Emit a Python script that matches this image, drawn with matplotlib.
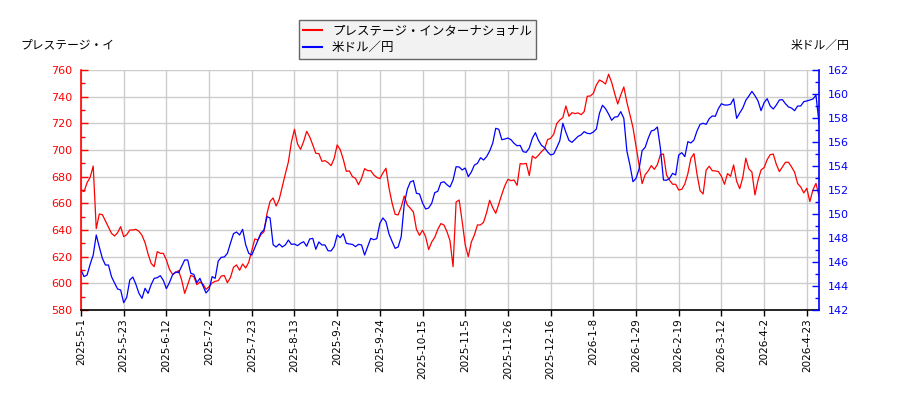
import numpy as np
import matplotlib
matplotlib.use("Agg")
import matplotlib.pyplot as plt
from matplotlib.ticker import MultipleLocator

plt.rcParams['font.family'] = ['DejaVu Sans', 'Noto Sans CJK JP']

# ---- data (one value per trading day) ----
stock_name = "プレステージ・インターナショナル"
fx_name = "米ドル／円"

tick_labels = ["2025-5-1", "2025-5-23", "2025-6-12", "2025-7-2", "2025-7-23",
               "2025-8-13", "2025-9-2", "2025-9-24", "2025-10-15", "2025-11-5",
               "2025-11-26", "2025-12-16", "2026-1-8", "2026-1-29", "2026-2-19",
               "2026-3-12", "2026-4-2", "2026-4-23"]
tick_step = 14  # trading days between labelled ticks

stock = [
    670, 668.8, 675.5, 679.5, 688, 641, 652, 651.5, 646.8, 642,
    637.5, 635.5, 638, 642.5, 635, 636.5, 640, 640, 640.5, 639,
    636, 630.5, 622, 615, 612.5, 623.8, 622.5, 622.5, 617.5, 610.5,
    606.8, 608, 609.5, 602.5, 592.5, 599, 606, 605, 599, 601,
    599.5, 595.5, 597.5, 600.3, 601.5, 602, 605.5, 605.8, 600.5, 604.3,
    612, 613.8, 609.8, 614.5, 611.5, 615.8, 624.5, 633.3, 632.5, 636.5,
    638.8, 652.5, 661.5, 664, 658, 663, 672.5, 682, 691, 706,
    715.5, 704.5, 700.5, 706.3, 714, 709.8, 703.8, 697.5, 697.3, 691.5,
    692, 690.5, 688.3, 693.5, 703.8, 700.3, 693, 684, 684.3, 680,
    678.8, 674, 678.8, 686, 684.5, 684.5, 681.3, 679.5, 678.5, 682.8,
    686.3, 671.5, 660.3, 651.8, 651.3, 657.3, 665.5, 658.8, 656.3, 653.5,
    640.5, 636, 639.8, 635, 625.3, 631, 634.5, 640.5, 644.8, 643.8,
    638.8, 632, 612.5, 661, 662.5, 646.3, 628.8, 620, 631, 636.3,
    643.8, 643.8, 645.8, 653, 662.3, 656.8, 652.5, 659.5, 666.8, 673.3,
    678, 677, 677.5, 673.5, 689.8, 689.5, 690, 680.8, 695.5, 693.8,
    696, 698.8, 701, 707.8, 708.8, 711.8, 719.8, 722.5, 724.3, 733,
    725.3, 728, 727.3, 727.8, 726.5, 728.8, 740.3, 740.5, 742.5, 748.8,
    752.5, 751.3, 749.5, 756.8, 750.8, 742.3, 734.5, 741.3, 747.3, 735.8,
    726.5, 716.8, 702.8, 689.3, 674.8, 681.5, 684.3, 688.3, 685.5, 689,
    696.5, 697, 681.3, 677.3, 674.3, 674.3, 670, 670.5, 674.5, 682.3,
    693.8, 697.3, 681.8, 669.5, 667, 685, 687.8, 684.5, 684.3, 683.8,
    680.3, 674.3, 682.3, 680.3, 688.8, 676.5, 671, 679.3, 693.8, 685.8,
    683.5, 666.3, 677.3, 685, 686.8, 692.8, 696.5, 697, 689.3, 683.8,
    687.3, 690.8, 690.8, 687.3, 683.3, 674.8, 672.3, 667.8, 671.3, 661.3,
    670, 675, 665.5,
]

usdjpy = [
    145.33, 144.78, 144.92, 145.81, 146.58, 148.25, 147.25, 146.31, 145.75, 145.75,
    144.78, 144.25, 143.75, 143.67, 142.61, 143.06, 144.5, 144.75, 144.14, 143.39,
    142.97, 143.81, 143.39, 144.11, 144.64, 144.69, 144.86, 144.47, 143.78, 144.28,
    144.92, 145.17, 145.11, 145.64, 146.17, 146.17, 145.06, 144.97, 144.28, 144.64,
    144.0, 143.42, 143.72, 144.78, 144.64, 146.08, 146.39, 146.42, 146.72, 147.56,
    148.36, 148.5, 148.25, 148.72, 147.44, 146.72, 146.58, 147.19, 147.78, 148.42,
    148.67, 149.78, 149.67, 147.44, 147.25, 147.5, 147.25, 147.42, 147.83, 147.47,
    147.5, 147.36, 147.56, 147.69, 147.31, 147.92, 147.97, 147.06, 147.67, 147.42,
    147.42, 146.94, 146.92, 147.28, 148.25, 148.03, 148.36, 147.56, 147.5, 147.47,
    147.28, 147.47, 147.42, 146.58, 147.28, 147.97, 147.86, 147.94, 149.22, 149.67,
    149.36, 148.33, 147.72, 147.14, 147.25, 148.11, 150.81, 152.06, 152.67, 152.78,
    151.72, 151.67, 150.92, 150.42, 150.5, 150.89, 151.78, 151.89, 152.61, 152.69,
    152.44, 152.25, 152.83, 153.94, 153.92, 153.67, 153.83, 153.11, 153.5, 154.08,
    154.22, 154.69, 154.5, 154.78, 155.25, 155.89, 157.14, 157.06, 156.19, 156.25,
    156.33, 156.19, 155.89, 155.69, 155.72, 155.19, 155.14, 155.5, 156.31, 156.78,
    156.14, 155.72, 155.53, 155.17, 154.92, 155.0, 155.53, 156.11, 157.56, 156.81,
    156.14, 155.97, 156.22, 156.47, 156.6, 156.86, 156.72, 156.69, 156.83, 157.08,
    158.39, 159.06, 158.78, 158.33, 157.81, 158.08, 158.11, 158.53, 157.97, 155.25,
    154.08, 152.69, 152.97, 153.75, 155.28, 155.56, 156.31, 156.92, 157.0, 157.25,
    155.47, 152.83, 152.81, 152.97, 153.39, 153.25, 154.92, 155.11, 154.78, 156.03,
    155.92, 156.17, 156.92, 157.47, 157.56, 157.47, 157.94, 158.17, 158.14, 158.78,
    159.19, 159.08, 159.08, 159.14, 159.6, 157.97, 158.42, 158.83, 159.47, 159.83,
    160.22, 159.86, 159.42, 158.61, 159.28, 159.61, 159.0, 158.75, 159.08, 159.5,
    159.53, 159.19, 158.92, 158.83, 158.61, 159.0, 159.0, 159.36, 159.42, 159.5,
    159.58, 159.9, 157.6,
]

# ---- figure ----
fig = plt.figure(figsize=(9, 4), dpi=100)
ax = fig.add_axes([0.09, 0.225, 0.82, 0.60])
ax2 = ax.twinx()

x = np.arange(len(stock))
ax.plot(x, stock, color='#ff0000', lw=0.9, zorder=3)
ax2.plot(np.arange(len(usdjpy)), usdjpy, color='#0000ff', lw=0.9, zorder=3)

ax.set_xlim(0, len(stock) - 1)
ax.set_ylim(580, 760)
ax2.set_ylim(142, 162)

ax.yaxis.set_major_locator(MultipleLocator(20))
ax.yaxis.set_minor_locator(MultipleLocator(10))
ax2.yaxis.set_major_locator(MultipleLocator(2))
ax2.yaxis.set_minor_locator(MultipleLocator(1))

ax.set_xticks(np.arange(len(tick_labels)) * tick_step)
ax.set_xticklabels(tick_labels, rotation=90, fontsize=7.5)

ax.grid(True, color='#cccccc', lw=1.0, zorder=0)
ax.set_axisbelow(True)

ax.tick_params(axis='y', which='major', direction='in', length=5, width=1,
               colors='#ff0000', labelsize=8, pad=6)
ax.tick_params(axis='y', which='minor', direction='in', length=3, width=1,
               colors='#ff0000')
ax2.tick_params(axis='y', which='major', direction='in', length=5, width=1,
                colors='#0000ff', labelsize=8, pad=6)
ax2.tick_params(axis='y', which='minor', direction='in', length=3, width=1,
                colors='#0000ff')
ax.tick_params(axis='x', direction='out', length=4, width=1, colors='black', pad=2)

for a in (ax, ax2):
    a.spines['top'].set_visible(False)
ax.spines['left'].set_color('#ff0000')
ax.spines['left'].set_linewidth(1.2)
ax2.spines['right'].set_color('#0000ff')
ax2.spines['right'].set_linewidth(1.2)
ax2.spines['left'].set_visible(False)
ax.spines['right'].set_visible(False)
ax2.spines['bottom'].set_visible(False)
ax.spines['bottom'].set_color('black')
ax.spines['bottom'].set_linewidth(1.2)

fig.text(0.023, 0.887, "プレステージ・イ", fontsize=8.5, ha='left', va='center')
fig.text(0.944, 0.887, fx_name, fontsize=8.5, ha='right', va='center')

h1, = ax.plot([], [], color='#ff0000', lw=1.5)
h2, = ax.plot([], [], color='#0000ff', lw=1.5)
leg = fig.legend([h1, h2], [stock_name, fx_name], loc='upper center',
                 bbox_to_anchor=(0.464, 0.965), fontsize=9, frameon=True,
                 fancybox=False, edgecolor='#666666', facecolor='#f2f2f2',
                 handlelength=1.5, borderpad=0.35, labelspacing=0.3,
                 handletextpad=0.8)
leg.get_frame().set_linewidth(1.0)
leg.get_frame().set_alpha(1.0)

fig.savefig("out.png", dpi=100)
